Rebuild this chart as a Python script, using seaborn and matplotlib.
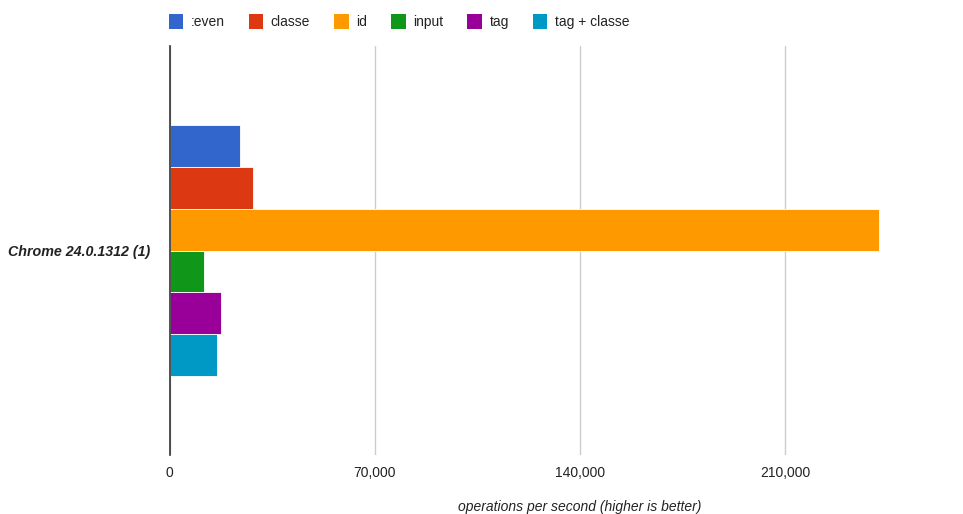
import matplotlib
matplotlib.use("Agg")
import matplotlib.pyplot as plt
import seaborn as sns
import pandas as pd
from matplotlib.patches import Patch
from matplotlib.ticker import FuncFormatter

category = ["Chrome 24.0.1312 (1)"]
series = [":even", "classe", "id", "input", "tag", "tag + classe"]
values = [24000, 28300, 241900, 11700, 17500, 16000]
colors = ["#3366cc", "#dc3912", "#ff9900", "#109618", "#990099", "#0099c6"]
xticks = [0, 70000, 140000, 210000]

df = pd.DataFrame({"browser": category * len(series), "series": series, "ops": values})

sns.set_theme(style="white")
plt.rcParams['font.family'] = ['Liberation Sans', 'DejaVu Sans']

fig = plt.figure(figsize=(9.63, 5.14), dpi=100)
ax = fig.add_axes([169.7/963, 1 - 455.3/514, (888 - 169.7)/963, (455.3 - 45.7)/514])

sns.barplot(data=df, y="browser", x="ops", hue="series", hue_order=series,
            palette=colors, saturation=1, orient="h", width=0.612, ax=ax,
            edgecolor="white", linewidth=0.6, legend=False, errorbar=None)

ax.set_ylim(0.5, -0.5)
ax.set_xlim(0, 245000)
ax.set_xticks(xticks)
ax.xaxis.set_major_formatter(FuncFormatter(lambda v, p: f"{int(v):,}"))
ax.grid(axis="x", color="#cccccc", linewidth=1)
ax.set_axisbelow(True)
for s in ["top", "right", "bottom"]:
    ax.spines[s].set_visible(False)
ax.spines["left"].set_color("#333333")
ax.spines["left"].set_linewidth(1.2)
ax.spines["left"].set_zorder(5)
ax.tick_params(axis="x", length=0, pad=8, labelsize=10, labelcolor="#222222")
ax.tick_params(axis="y", length=0, pad=14, labelsize=10.3, labelcolor="#222222")
for lbl in ax.get_yticklabels():
    lbl.set_fontstyle("italic")
    lbl.set_fontweight("bold")
ax.set_ylabel("")
ax.set_xlabel("operations per second (higher is better)", fontstyle="italic",
              fontsize=10, color="#222222")
ax.xaxis.set_label_coords((580 - 169.7) / (888 - 169.7), -0.108)

handles = [Patch(facecolor=c, edgecolor="none", label=s) for s, c in zip(series, colors)]
fig.legend(handles=handles, loc="upper left", bbox_to_anchor=(156/963, 1 - 1/514),
           ncol=6, frameon=False, fontsize=10, handlelength=1.05, handleheight=1.3,
           handletextpad=0.55, columnspacing=1.72, labelcolor="#222222")

fig.savefig("out.png", dpi=100, facecolor="white")
